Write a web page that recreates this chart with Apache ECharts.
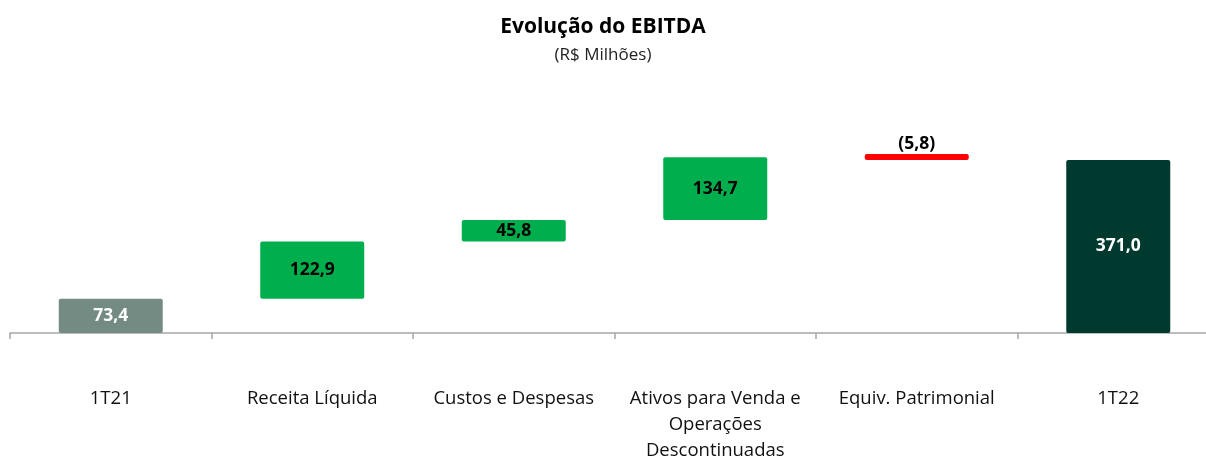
<!DOCTYPE html>
<html lang="pt">
<head>
    <meta charset="utf-8" />
    <title>Evolução do EBITDA</title>
    <script type="text/javascript" src="https://cdn.jsdelivr.net/npm/echarts@6/dist/echarts.min.js"></script>
    <style type="text/css">
        html, body { margin: 0; padding: 0; background: #fff; }
    </style>
</head>
<body>
    <div id="main" style="width:1206px;height:457px;"></div>

    <script type="text/javascript">
        // categorias (eixo X)
        var categories = ['1T21', 'Receita Líquida', 'Custos e Despesas', 'Ativos para Venda e\nOperações\nDescontinuadas', 'Equiv. Patrimonial', '1T22'];
        // valores: totais e variações (R$ milhões)
        var values = [73.4, 122.9, 45.8, 134.7, -5.8, 371.0];
        var isTotal = [true, false, false, false, false, true];

        var barColors = ['#738b82', '#00ae4d', '#00ae4d', '#00ae4d', '#ff0000', '#003a2f'];
        var labelColors = ['#ffffff', '#000000', '#000000', '#000000', '#000000', '#ffffff'];

        // base invisivel + altura de cada barra
        var baseData = [];
        var barData = [];
        var running = 0;
        for (var i = 0; i < values.length; i++) {
            var v = values[i];
            if (isTotal[i]) {
                baseData.push(0);
                barData.push(v);
                running = v;
            } else if (v >= 0) {
                baseData.push(running);
                barData.push(v);
                running += v;
            } else {
                running += v;
                baseData.push(running);
                barData.push(-v);
            }
        }

        function fmt(v) {
            var s = Math.abs(v).toFixed(1).replace('.', ',');
            return v < 0 ? '(' + s + ')' : s;
        }

        var myChart = echarts.init(document.getElementById('main'));

        var option = {
            animation: false,
            textStyle: { fontFamily: 'Open Sans' },
            title: {
                text: 'Evolução do EBITDA',
                subtext: '(R$ Milhões)',
                left: 'center',
                top: 12,
                itemGap: 9,
                textStyle: { fontSize: 21, fontWeight: 'bold', color: '#000', fontFamily: 'Open Sans' },
                subtextStyle: { fontSize: 17, color: '#222', fontFamily: 'Open Sans' }
            },
            grid: { left: 10, width: 1209, top: 146.5, height: 186.5, outerBoundsMode: 'none', containLabel: false },
            xAxis: {
                type: 'category',
                data: categories,
                axisLine: { lineStyle: { color: '#a6a6a6', width: 1.5 } },
                axisTick: { show: true, length: 6, lineStyle: { color: '#a6a6a6', width: 1.5 } },
                axisLabel: {
                    interval: 0,
                    margin: 53,
                    fontSize: 18.5,
                    lineHeight: 26,
                    color: '#111',
                    verticalAlign: 'top'
                }
            },
            yAxis: {
                type: 'value',
                min: 0,
                max: 400,
                show: false,
                splitLine: { show: false }
            },
            series: [{
                name: 'base',
                type: 'bar',
                stack: 'wf',
                barWidth: 104,
                silent: true,
                itemStyle: { color: 'transparent' },
                data: baseData
            }, {
                name: 'EBITDA',
                type: 'bar',
                stack: 'wf',
                barWidth: 104,
                barMinHeight: 6,
                data: barData.map(function (h, idx) {
                    var neg = values[idx] < 0;
                    return {
                        value: h,
                        itemStyle: { color: barColors[idx], borderRadius: 2 },
                        label: {
                            show: true,
                            position: neg ? 'top' : 'inside',
                            distance: 1,
                            formatter: fmt(values[idx]),
                            color: labelColors[idx],
                            fontSize: 17.5,
                            fontWeight: 'bold'
                        }
                    };
                })
            }]
        };
        myChart.setOption(option);
    </script>
</body>
</html>
